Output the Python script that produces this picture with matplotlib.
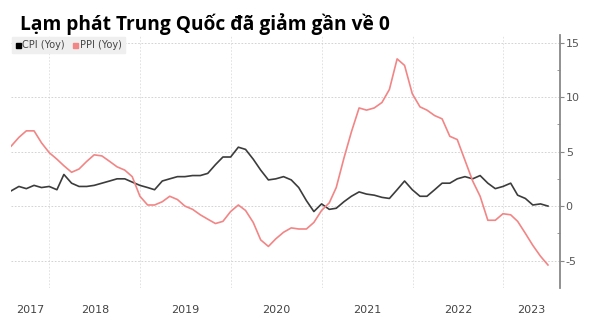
import pandas as pd
import matplotlib
matplotlib.use("Agg")
import matplotlib.pyplot as plt
import matplotlib.dates as mdates
from matplotlib.patches import Rectangle

# monthly, Jul 2017 .. Jun 2023 (month-end dates)
dates = pd.date_range("2017-07-31", "2023-06-30", freq="ME")
cpi = [1.4, 1.8, 1.6, 1.9, 1.7, 1.8,
       1.5, 2.9, 2.1, 1.8, 1.8, 1.9, 2.1, 2.3, 2.5, 2.5, 2.2, 1.9,
       1.7, 1.5, 2.3, 2.5, 2.7, 2.7, 2.8, 2.8, 3.0, 3.8, 4.5, 4.5,
       5.4, 5.2, 4.3, 3.3, 2.4, 2.5, 2.7, 2.4, 1.7, 0.5, -0.5, 0.2,
       -0.3, -0.2, 0.4, 0.9, 1.3, 1.1, 1.0, 0.8, 0.7, 1.5, 2.3, 1.5,
       0.9, 0.9, 1.5, 2.1, 2.1, 2.5, 2.7, 2.5, 2.8, 2.1, 1.6, 1.8,
       2.1, 1.0, 0.7, 0.1, 0.2, 0.0]
ppi = [5.5, 6.3, 6.9, 6.9, 5.8, 4.9,
       4.3, 3.7, 3.1, 3.4, 4.1, 4.7, 4.6, 4.1, 3.6, 3.3, 2.7, 0.9,
       0.1, 0.1, 0.4, 0.9, 0.6, 0.0, -0.3, -0.8, -1.2, -1.6, -1.4, -0.5,
       0.1, -0.4, -1.5, -3.1, -3.7, -3.0, -2.4, -2.0, -2.1, -2.1, -1.5, -0.4,
       0.3, 1.7, 4.4, 6.8, 9.0, 8.8, 9.0, 9.5, 10.7, 13.5, 12.9, 10.3,
       9.1, 8.8, 8.3, 8.0, 6.4, 6.1, 4.2, 2.3, 0.9, -1.3, -1.3, -0.7,
       -0.8, -1.4, -2.5, -3.6, -4.6, -5.4]
years = [2017, 2018, 2019, 2020, 2021, 2022, 2023]
yticks = [-5, 0, 5, 10, 15]

cpi_color = "#3c3c3c"
ppi_color = "#f28585"

fig = plt.figure(figsize=(5.89, 3.29), dpi=100)
ax = fig.add_axes([0.019, 0.125, 0.932, 0.769])

ax.plot(dates, cpi, color=cpi_color, lw=1.2)
ax.plot(dates, ppi, color=ppi_color, lw=1.2)

xmin = mdates.date2num(pd.Timestamp("2017-07-31"))
xmax = mdates.date2num(pd.Timestamp("2023-08-18"))
ax.set_xlim(xmin, xmax)
ax.set_ylim(-7.5, 15.7)

# right axis only
for s in ["left", "top", "bottom"]:
    ax.spines[s].set_visible(False)
ax.spines["right"].set_color("#888888")
ax.spines["right"].set_linewidth(1.3)
ax.yaxis.tick_right()
ax.set_yticks(yticks)
ax.set_yticklabels([str(v) for v in yticks])
ax.set_yticks([-2.5, 2.5, 7.5, 12.5], minor=True)
ax.tick_params(axis="y", which="major", length=3, width=0.8, color="#888888",
               labelsize=8, labelcolor="#555555", pad=1)
ax.tick_params(axis="y", which="minor", length=2, width=0.6, color="#888888",
               direction="in")
ax.grid(axis="y", color="#cccccc", lw=0.6, ls=(0, (2, 2)))

# year gridlines and labels centred in the visible part of each year
bounds = [mdates.date2num(pd.Timestamp(f"{y}-01-01")) for y in years[1:]]
for b in bounds:
    ax.axvline(b, color="#dddddd", lw=0.6, ls=(0, (2, 2)), zorder=0)
edges = [xmin] + bounds + [xmax]
ax.set_xticks([(edges[i] + edges[i + 1]) / 2 for i in range(len(years))])
ax.set_xticklabels([str(y) for y in years])
ax.tick_params(axis="x", length=0, labelsize=8, labelcolor="#444444", pad=12)

# legend box
def px(x, y):
    return x / 589, 1 - y / 329

fig.patches.append(Rectangle(px(12, 53), 113 / 589, 16 / 329,
                             transform=fig.transFigure, color="#efefef", zorder=0))
fig.patches.append(Rectangle(px(16, 47.5), 4.5 / 589, 4.5 / 329,
                             transform=fig.transFigure, color="black"))
fig.patches.append(Rectangle(px(73, 47.5), 4.5 / 589, 4.5 / 329,
                             transform=fig.transFigure, color=ppi_color))
fig.text(*px(22, 45.5), "CPI (Yoy)", color="#444444", fontsize=7, va="center")
fig.text(*px(80, 45.5), "PPI (Yoy)", color="#444444", fontsize=7, va="center")

fig.text(*px(20, 30), "Lạm phát Trung Quốc đã giảm gần về 0",
         fontsize=13.8, fontweight="bold", family="Open Sans", va="baseline")

fig.savefig("out.png", dpi=100)
